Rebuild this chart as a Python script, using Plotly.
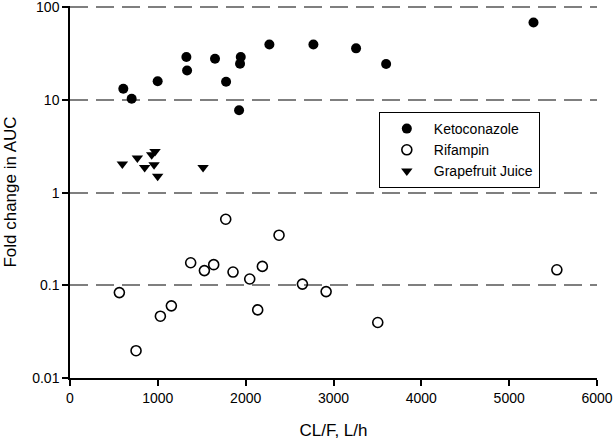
import plotly.graph_objects as go

# Ketoconazole
keto_x = [607, 702, 998, 1325, 1333, 1651, 1777, 1944, 1936, 1925, 2270, 2771, 3257, 3599, 5277]
keto_y = [13.2, 10.3, 15.9, 29.0, 20.8, 27.8, 15.7, 29.0, 24.6, 7.75, 39.7, 39.7, 36.0, 24.4, 68.4]

# Rifampin
rif_x = [562, 752, 1029, 1154, 1374, 1530, 1636, 1773, 1856, 2046, 2137, 2190, 2380, 2646, 2916, 3504, 5543]
rif_y = [0.0834, 0.0197, 0.0464, 0.060, 0.175, 0.144, 0.167, 0.516, 0.139, 0.117, 0.0543, 0.16, 0.347, 0.103, 0.0855, 0.0397, 0.147]

# Grapefruit Juice
gj_x = [596, 767, 850, 930, 968, 957, 998, 1515]
gj_y = [2.03, 2.36, 1.87, 2.56, 2.78, 2.0, 1.5, 1.87]

y_tickvals = [0.01, 0.1, 1, 10, 100]
y_ticktext = ["0.01", "0.1", "1", "10", "100"]
x_tickvals = [0, 1000, 2000, 3000, 4000, 5000, 6000]

font = "Liberation Sans, Arial, sans-serif"

fig = go.Figure()
fig.add_trace(go.Scatter(x=keto_x, y=keto_y, mode="markers", name="Ketoconazole",
                         marker=dict(symbol="circle", size=10, color="black")))
fig.add_trace(go.Scatter(x=rif_x, y=rif_y, mode="markers", name="Rifampin",
                         marker=dict(symbol="circle-open", size=10, color="black",
                                     line=dict(width=1.6, color="black"))))
fig.add_trace(go.Scatter(x=gj_x, y=gj_y, mode="markers", name="Grapefruit Juice",
                         marker=dict(symbol="triangle-down", size=10, color="black")))

fig.update_layout(
    width=614, height=441,
    margin=dict(l=70, r=17, t=6, b=63, autoexpand=False),
    paper_bgcolor="white", plot_bgcolor="white",
    font=dict(family=font, size=14, color="black"),
    legend=dict(x=0.586, y=0.715, xanchor="left", yanchor="top",
                bordercolor="black", borderwidth=1, bgcolor="white",
                font=dict(size=14), itemwidth=44, tracegroupgap=0),
    xaxis=dict(range=[0, 6000], tickvals=x_tickvals, showline=True, linecolor="black",
               linewidth=1.5, ticks="outside", ticklen=6, tickwidth=1.5, tickcolor="black",
               showgrid=False, zeroline=False, automargin=False, ticklabeloverflow="allow",
               title=dict(text="CL/F, L/h", font=dict(size=17), standoff=20)),
    yaxis=dict(type="log", range=[-2.0002, 2.0135], tickvals=y_tickvals, ticktext=y_ticktext,
               showline=True, linecolor="black", linewidth=1.5, ticks="outside",
               ticklen=6, tickwidth=1.5, tickcolor="black",
               showgrid=True, gridcolor="#7f7f7f", gridwidth=1.5, griddash="18px,8px",
               zeroline=False, automargin=False, ticklabeloverflow="allow",
               title=dict(text="Fold change in AUC", font=dict(size=17), standoff=11)),
)

fig.write_html("out.html", config={"displayModeBar": False},
               post_script="document.body.style.margin='0px';")
